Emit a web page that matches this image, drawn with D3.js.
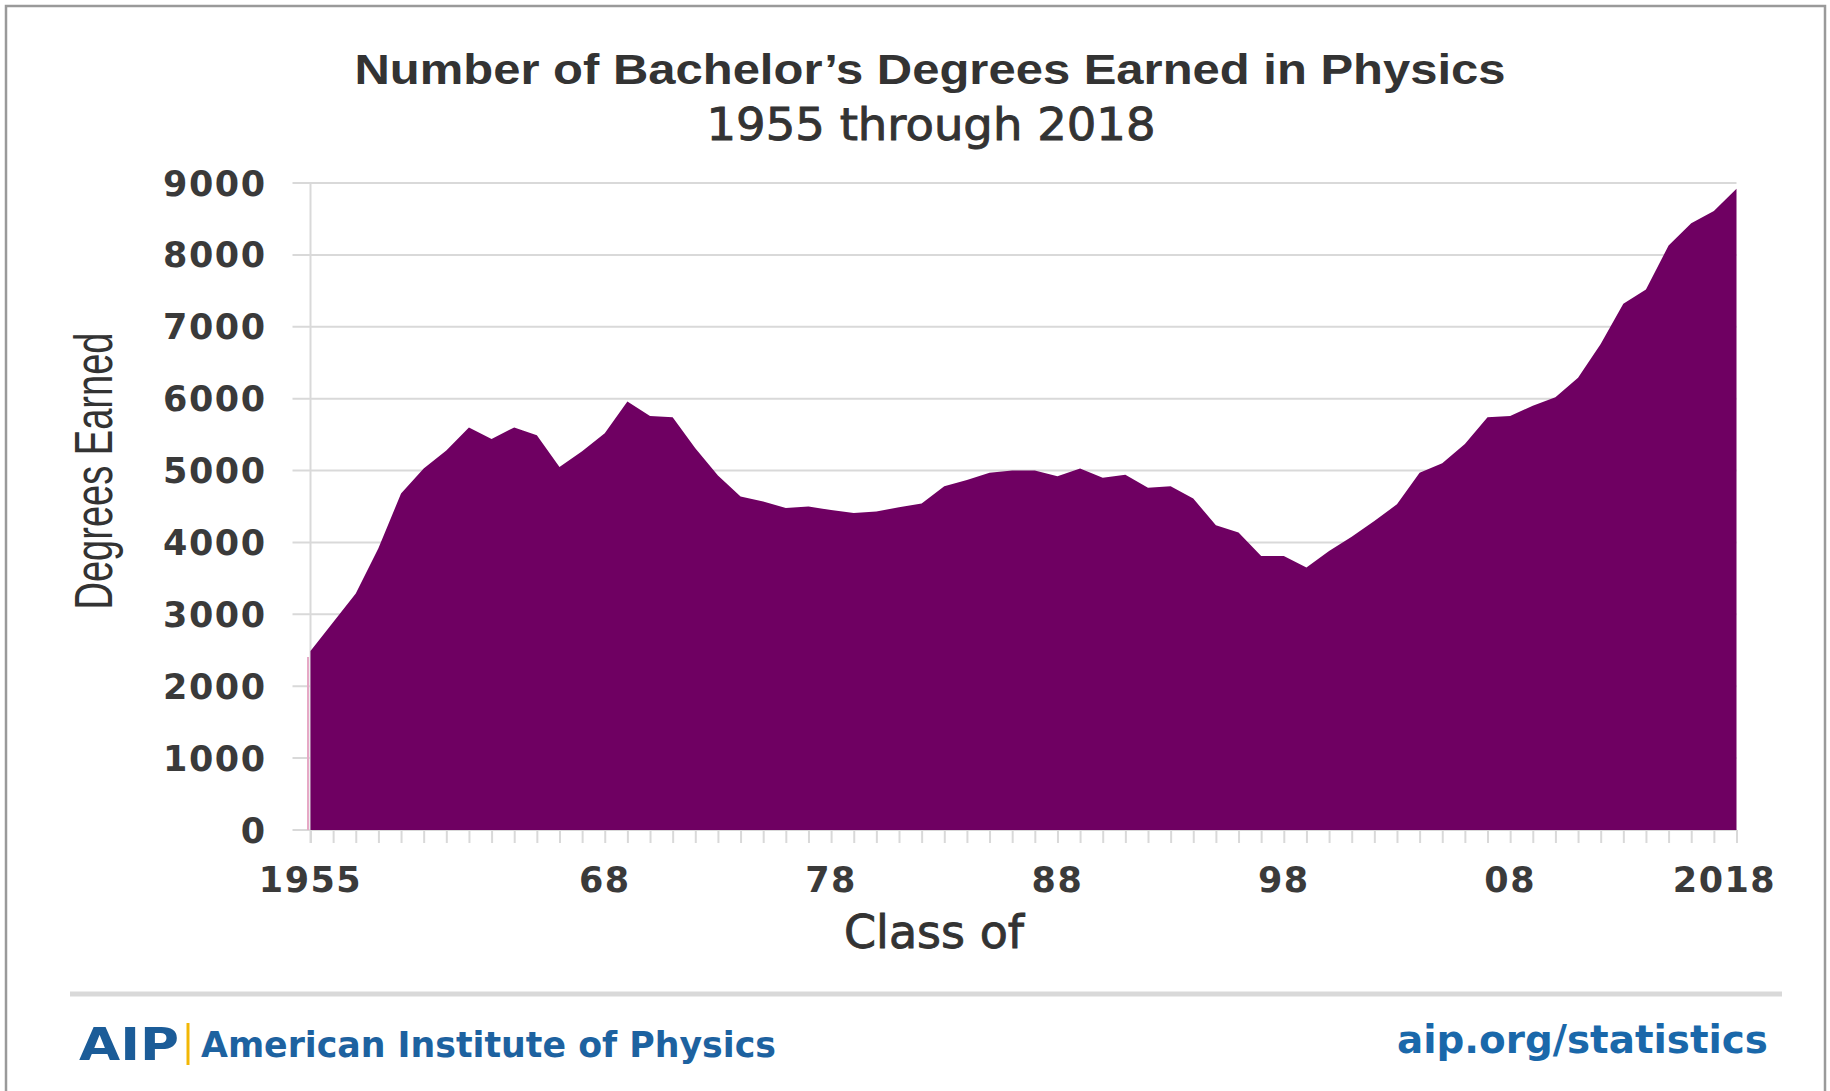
<!DOCTYPE html>
<meta charset="utf-8">
<title>Bachelor's Degrees in Physics</title>
<script src="https://d3js.org/d3.v7.min.js"></script>
<style>
body { margin: 0; background: #fff; }
.tick-label { font-family: "DejaVu Sans", sans-serif; font-weight: bold; font-size: 35px; fill: #3a3a3a; letter-spacing: 1.5px; }
</style>
<body>
<div id="chart"></div>
<script>
// class years and number of degrees
var years = d3.range(1955, 2019);
var degrees = [
  2490, 2890, 3290, 3920, 4680, 5030, 5280, 5600, 5440, 5600,
  5490, 5050, 5270, 5520, 5960, 5760, 5740, 5310, 4930, 4640,
  4570, 4480, 4500, 4450, 4410, 4430, 4490, 4540, 4780, 4870,
  4970, 5000, 5000, 4920, 5030, 4900, 4940, 4760, 4780, 4610,
  4240, 4140, 3810, 3810, 3650, 3880, 4080, 4300, 4530, 4970,
  5100, 5370, 5740, 5760, 5900, 6020, 6290, 6760, 7320, 7520,
  8130, 8440, 8610, 8920
];
var yTicks = [0, 1000, 2000, 3000, 4000, 5000, 6000, 7000, 8000, 9000];
var xLabelYears = [1955, 1968, 1978, 1988, 1998, 2008, 2018];
var xLabels = ["1955", "68", "78", "88", "98", "08", "2018"];

var W = 1830, H = 1091;
var plot = {left: 310.5, right: 1736.5, top: 183, bottom: 830};

var svg = d3.select("#chart").append("svg")
  .attr("width", W)
  .attr("height", H);

svg.append("rect").attr("width", W).attr("height", H).attr("fill", "#fff");

// outer frame (bottom edge runs off the picture)
svg.append("rect")
  .attr("x", 6).attr("y", 6)
  .attr("width", 1819).attr("height", 1110)
  .attr("fill", "none")
  .attr("stroke", "#9a9a9a")
  .attr("stroke-width", 2.5);

var x = d3.scaleLinear().domain([1955, 2018]).range([plot.left, plot.right]);
var y = d3.scaleLinear().domain([0, 9000]).range([plot.bottom, plot.top]);

// gridlines, reaching a bit left of the axis as ticks
svg.append("g")
  .selectAll("line")
  .data(yTicks)
  .enter()
  .append("line")
    .attr("x1", x(1955) - 18)
    .attr("x2", x(2018))
    .attr("y1", function(d) { return y(d); })
    .attr("y2", function(d) { return y(d); })
    .attr("stroke", "#d9d9d9")
    .attr("stroke-width", 2);

// year ticks under the axis
var xAxis = svg.append("g")
  .attr("transform", "translate(0," + y(0) + ")")
  .call(d3.axisBottom(x).tickValues(years).tickSize(13).tickFormat(""));
xAxis.select(".domain").remove();
xAxis.selectAll(".tick line").attr("stroke", "#d9d9d9").attr("stroke-width", 2);

// vertical axis line
svg.append("line")
  .attr("x1", x(1955)).attr("x2", x(1955))
  .attr("y1", y(9000)).attr("y2", y(0) + 13)
  .attr("stroke", "#d9d9d9")
  .attr("stroke-width", 2);

// faint pink edge to the left of the first year
svg.append("line")
  .attr("x1", x(1955) - 2.5).attr("x2", x(1955) - 2.5)
  .attr("y1", y(0)).attr("y2", y(degrees[0]) + 6)
  .attr("stroke", "#e6a9c6")
  .attr("stroke-width", 2);

// the area
var area = d3.area()
  .x(function(d, i) { return x(years[i]); })
  .y0(y(0))
  .y1(function(d) { return y(d); });

svg.append("path")
  .datum(degrees)
  .attr("d", area)
  .attr("fill", "#6f0062");

// y tick labels
svg.append("g")
  .selectAll("text")
  .data(yTicks)
  .enter()
  .append("text")
    .attr("class", "tick-label")
    .attr("x", x(1955) - 44)
    .attr("y", function(d) { return y(d); })
    .attr("dy", "0.36em")
    .attr("text-anchor", "end")
    .text(function(d) { return d; });

// x tick labels
svg.append("g")
  .selectAll("text")
  .data(xLabelYears)
  .enter()
  .append("text")
    .attr("class", "tick-label")
    .attr("x", function(d) { return x(d); })
    .attr("dx", function(d, i) { return i == xLabels.length - 1 ? -12 : 0; })
    .attr("y", 892)
    .attr("text-anchor", "middle")
    .text(function(d, i) { return xLabels[i]; });

// titles
svg.append("text")
  .attr("x", 930).attr("y", 84)
  .attr("text-anchor", "middle")
  .attr("textLength", 1151)
  .attr("lengthAdjust", "spacingAndGlyphs")
  .style("font-family", "'Liberation Sans', Arial, sans-serif")
  .style("font-weight", "bold")
  .style("font-size", "43px")
  .style("fill", "#333")
  .text("Number of Bachelor\u2019s Degrees Earned in Physics");

svg.append("text")
  .attr("x", 931).attr("y", 140)
  .attr("text-anchor", "middle")
  .attr("textLength", 449)
  .attr("lengthAdjust", "spacingAndGlyphs")
  .style("font-family", "'DejaVu Sans', sans-serif")
  .style("font-size", "44px")
  .style("fill", "#333")
  .style("stroke", "#333")
  .style("stroke-width", 0.9)
  .text("1955 through 2018");

// axis titles
svg.append("text")
  .attr("transform", "translate(112,471) rotate(-90)")
  .attr("text-anchor", "middle")
  .attr("textLength", 277)
  .attr("lengthAdjust", "spacingAndGlyphs")
  .style("font-family", "'Liberation Sans', Arial, sans-serif")
  .style("font-size", "53px")
  .style("fill", "#333")
  .text("Degrees Earned");

svg.append("text")
  .attr("x", 934).attr("y", 948)
  .attr("text-anchor", "middle")
  .style("font-family", "'DejaVu Sans', sans-serif")
  .style("font-size", "46px")
  .style("fill", "#333")
  .style("stroke", "#333")
  .style("stroke-width", 0.9)
  .text("Class of");

// footer
svg.append("line")
  .attr("x1", 70).attr("x2", 1782)
  .attr("y1", 994).attr("y2", 994)
  .attr("stroke", "#d9d9d9")
  .attr("stroke-width", 5);

svg.append("text")
  .attr("x", 79).attr("y", 1060)
  .attr("textLength", 100)
  .attr("lengthAdjust", "spacingAndGlyphs")
  .style("font-family", "'DejaVu Sans', sans-serif")
  .style("font-weight", "bold")
  .style("font-size", "45px")
  .style("fill", "#1b5c98")
  .text("AIP");

svg.append("line")
  .attr("x1", 188).attr("x2", 188)
  .attr("y1", 1023).attr("y2", 1065)
  .attr("stroke", "#f2b705")
  .attr("stroke-width", 3);

svg.append("text")
  .attr("x", 201).attr("y", 1057)
  .attr("textLength", 575)
  .attr("lengthAdjust", "spacingAndGlyphs")
  .style("font-family", "'DejaVu Sans', sans-serif")
  .style("font-weight", "bold")
  .style("font-size", "36px")
  .style("fill", "#1d62a0")
  .text("American Institute of Physics");

svg.append("text")
  .attr("x", 1768).attr("y", 1053)
  .attr("text-anchor", "end")
  .attr("textLength", 371)
  .attr("lengthAdjust", "spacingAndGlyphs")
  .style("font-family", "'DejaVu Sans', sans-serif")
  .style("font-weight", "bold")
  .style("font-size", "39px")
  .style("fill", "#1a68aa")
  .text("aip.org/statistics");
</script>
</body>
